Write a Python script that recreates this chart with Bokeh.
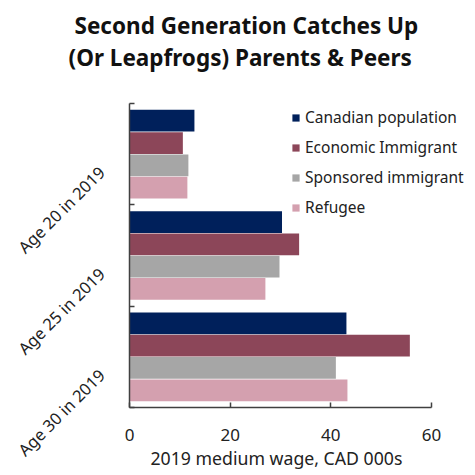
import math
from bokeh.plotting import figure
from bokeh.models import (ColumnDataSource, Range1d, FixedTicker, Title, Legend, LegendItem, LinearAxis)
from bokeh.transform import dodge
from bokeh.embed import file_html
from bokeh.resources import INLINE

categories = ["Age 20 in 2019", "Age 25 in 2019", "Age 30 in 2019"]
series_names = ["Canadian population", "Economic Immigrant", "Sponsored immigrant", "Refugee"]
canadian = [12.9, 30.3, 43.1]
economic = [10.6, 33.7, 55.7]
sponsored = [11.7, 29.8, 41.0]
refugee = [11.5, 27.0, 43.3]
x_ticks = [0, 20, 40, 60]
x_label = "2019 medium wage, CAD 000s"
title_lines = ["Second Generation Catches Up", "(Or Leapfrogs) Parents & Peers"]

colors = ["#00205B", "#8C4659", "#A6A6A6", "#D4A0AF"]
offsets = [0.33, 0.11, -0.11, -0.33]
FONT = "Noto Sans"
AX = "#404040"
TXT = "#222222"

n = len(categories)
ypos = [n - 1 - i + 0.5 for i in range(n)]
src = ColumnDataSource(dict(y=ypos, c=canadian, e=economic, s=sponsored, r=refugee))

p = figure(width=475, height=475, output_backend="svg", toolbar_location=None,
           x_range=Range1d(0, 67.75), y_range=Range1d(0, n),
           min_border_left=129, min_border_right=5, min_border_bottom=68,
           min_border_top=5)
p.outline_line_color = None
p.xgrid.visible = False
p.ygrid.visible = False

renderers = []
for key, col, off in zip(["c", "e", "s", "r"], colors, offsets):
    r = p.hbar(y=dodge("y", off, range=p.y_range), right=key, left=0, height=0.215,
               source=src, fill_color=col, line_color=None)
    renderers.append(r)

legend = Legend(items=[LegendItem(label=nm, renderers=[r]) for nm, r in zip(series_names, renderers)],
                location=(162, 189), border_line_color=None, background_fill_alpha=0,
                label_text_font=FONT, label_text_font_size="15.5px", label_text_color=TXT,
                glyph_width=9, glyph_height=9, label_height=20, spacing=8,
                label_standoff=5, padding=4, margin=0)
p.add_layout(legend, "center")

# x axis
xa = p.xaxis[0]
xa.ticker = FixedTicker(ticks=x_ticks)
xa.bounds = (x_ticks[0], x_ticks[-1])
xa.minor_tick_line_color = None
xa.major_tick_in = 5
xa.major_tick_out = 0
xa.axis_line_color = AX
xa.axis_line_width = 1.5
xa.major_tick_line_color = AX
xa.major_tick_line_width = 1.5
xa.major_label_text_font = FONT
xa.major_label_text_font_size = "17px"
xa.major_label_text_color = TXT
xa.major_label_standoff = 21

p.add_layout(Title(text=x_label, text_font=FONT, text_font_size="17.7px",
                   text_font_style="normal", align="left", offset=21,
                   text_color=TXT, standoff=1), "below")

# y axis: line and boundary ticks
ya = p.yaxis[0]
ya.ticker = FixedTicker(ticks=[], minor_ticks=[float(i) for i in range(n + 1)])
ya.major_tick_line_color = None
ya.minor_tick_in = 5
ya.minor_tick_out = 0
ya.minor_tick_line_color = AX
ya.minor_tick_line_width = 1.5
ya.axis_line_color = AX
ya.axis_line_width = 1.5
ya.major_label_standoff = 0

# y category labels
p.extra_y_ranges = {"lbl": Range1d(0.15, n + 0.15)}
la = LinearAxis(y_range_name="lbl", ticker=FixedTicker(ticks=ypos))
la.major_label_overrides = {y: c for y, c in zip(ypos, categories)}
la.axis_line_color = None
la.major_tick_line_color = None
la.minor_tick_line_color = None
la.major_label_orientation = math.pi / 4
la.major_label_text_font = FONT
la.major_label_text_font_size = "16.5px"
la.major_label_text_color = TXT
la.major_label_standoff = 22
p.add_layout(la, "left")

# titles (spacer nearest the plot, then line 2, then line 1)
p.add_layout(Title(text=" ", text_font=FONT, text_font_size="10px", standoff=19), "above")
p.add_layout(Title(text=title_lines[1], text_font=FONT, text_font_size="22.5px",
                   text_font_style="bold", align="left", offset=-61, text_color="#111111",
                   vertical_align="top", standoff=-13), "above")
p.add_layout(Title(text=title_lines[0], text_font=FONT, text_font_size="22.5px",
                   text_font_style="bold", align="left", offset=-55, text_color="#111111",
                   standoff=15), "above")

open("out.html", "w").write(file_html(p, INLINE))
